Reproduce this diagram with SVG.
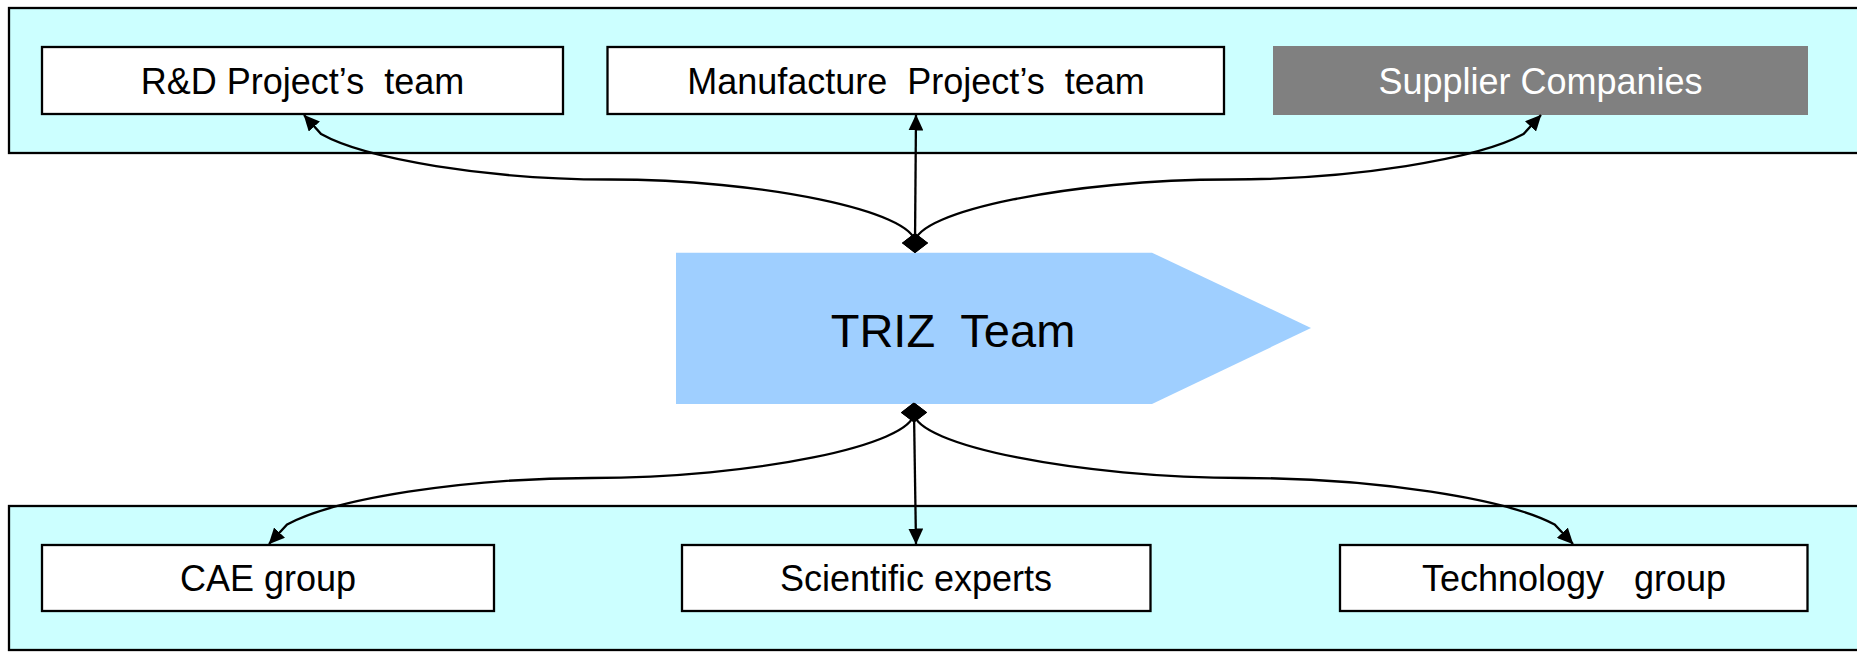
<svg xmlns="http://www.w3.org/2000/svg" width="1857" height="652" viewBox="0 0 1857 652">
<style>
.band{fill:#CCFFFF;stroke:#000;stroke-width:2.3}
.box{fill:#FFFFFF;stroke:#000;stroke-width:2.3}
.sup{fill:#808080;stroke:none}
.lbl{font-family:"Liberation Sans",Arial,sans-serif;font-size:36px;fill:#000;text-anchor:middle}
.wlbl{fill:#FFFFFF}
.big{font-family:"Liberation Sans",Arial,sans-serif;font-size:47px;fill:#000;text-anchor:middle}
.con{fill:none;stroke:#000;stroke-width:2.3;marker-start:url(#dia);marker-end:url(#arr)}
</style>
<defs>
<marker id="arr" viewBox="0 0 16 15" refX="15.5" refY="7.5" markerWidth="16" markerHeight="15" markerUnits="userSpaceOnUse" orient="auto">
<path d="M0,0 L16,7.5 L0,15 z" fill="#000"/>
</marker>
<marker id="dia" viewBox="0 0 20 26" refX="10" refY="13" markerWidth="20" markerHeight="26" markerUnits="userSpaceOnUse" orient="auto">
<path d="M0,13 L10,0 L20,13 L10,26 z" fill="#000"/>
</marker>
</defs>
<rect class="band" x="9" y="8" width="1870" height="145"/>
<rect class="band" x="9" y="506" width="1870" height="144"/>
<g id="rd">
<rect class="box" x="42" y="47" width="521" height="67"/>
<text class="lbl" x="302.5" y="93.5" xml:space="preserve">R&amp;D Project’s  team</text>
</g>
<g id="manufacture">
<rect class="box" x="607.5" y="47" width="616.5" height="67"/>
<text class="lbl" x="916" y="93.5" xml:space="preserve">Manufacture  Project’s  team</text>
</g>
<g id="supplier">
<rect class="sup" x="1273" y="46" width="535" height="69"/>
<text class="lbl wlbl" x="1540.5" y="93.5">Supplier Companies</text>
</g>
<g id="triz">
<polygon points="676,252.7 1152,252.7 1311,328 1152,404 676,404" fill="#9FCFFF"/>
<text class="big" x="953" y="347" xml:space="preserve">TRIZ  Team</text>
</g>
<g id="cae">
<rect class="box" x="42" y="545" width="452" height="66"/>
<text class="lbl" x="268" y="591">CAE group</text>
</g>
<g id="scientific">
<rect class="box" x="682" y="545" width="468.5" height="66"/>
<text class="lbl" x="916" y="591">Scientific experts</text>
</g>
<g id="technology">
<rect class="box" x="1340" y="545" width="467.5" height="66"/>
<text class="lbl" x="1574" y="591" xml:space="preserve">Technology   group</text>
</g>
<g id="connectors">
<path class="con" d="M915,243 C915,211.5 762.25,179.5 609.5,179.5 C487.3,179.5 365.1,158.9 321.1,134.1 L304,115"/>
<path class="con" d="M915,243 L916,115"/>
<path class="con" d="M915,243 C915,211.5 1072.25,179.5 1228.5,179.5 C1353.5,179.5 1478.5,158.9 1523.5,134.1 L1541,115"/>
<path class="con" d="M914,412.5 C914,445 752.75,478 591.5,478 C462.5,478 333.5,499.1 287.1,524.5 L269,544"/>
<path class="con" d="M914,412.5 L916,544"/>
<path class="con" d="M914,412.5 C914,445 1079.5,478 1244,478 C1375.6,478 1507.2,499.1 1554.6,524.5 L1573,544"/>
</g>
</svg>
